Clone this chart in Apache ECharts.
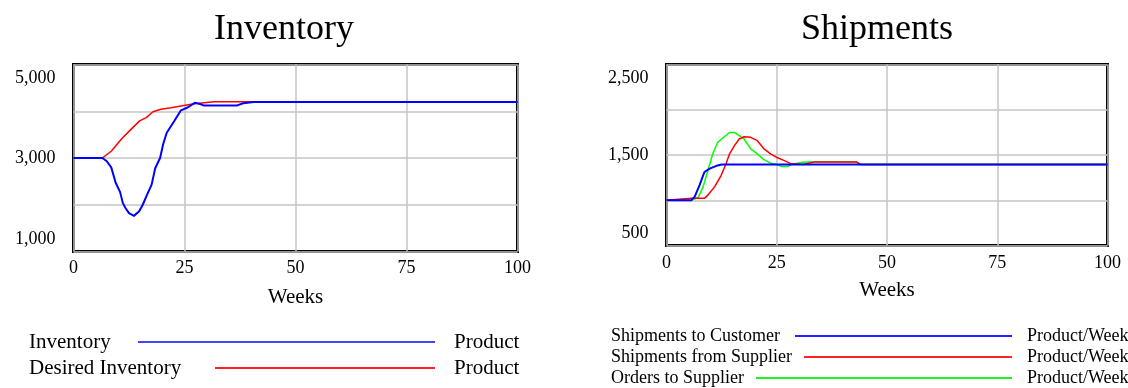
<!DOCTYPE html>
<html>
<head>
<meta charset="utf-8">
<script src="https://cdn.jsdelivr.net/npm/echarts@6/dist/echarts.min.js"></script>
<style>
  html, body { margin: 0; padding: 0; background: #fff; }
  #main { width: 1128px; height: 388px; }
</style>
</head>
<body>
<div id="main"></div>
<script>
/* ---------------------------- data ---------------------------- */
var invWeeks = [0, 6.5, 7.5, 8.5, 9.5, 10.5, 11.1, 11.7, 12.5, 13.6, 14.8, 15.6, 16.5, 17.6, 18.4, 19.5, 20.2, 21, 22.7, 24.2, 25.7, 27.3, 28.3, 29.3, 36.9, 38.2, 40.6, 100];
var invValues = [3000, 3000, 2930, 2800, 2470, 2270, 2040, 1930, 1820, 1762, 1860, 2000, 2200, 2430, 2780, 3000, 3300, 3540, 3790, 4020, 4080, 4180, 4160, 4125, 4125, 4170, 4200, 4200];

var desWeeks = [0, 6.5, 8.5, 10.8, 13, 14.9, 16.4, 17.9, 19.7, 22, 24.2, 27.2, 31.7, 41, 100];
var desValues = [3000, 3000, 3144, 3406, 3618, 3794, 3865, 3990, 4041, 4075, 4111, 4160, 4205, 4205, 4200];

var custWeeks = [0, 5.6, 6.4, 7.5, 8.6, 9.8, 11.6, 12.5, 100];
var custValues = [1000, 1000, 1039, 1167, 1312, 1349, 1385, 1395, 1395];

var suppWeeks = [0, 5.6, 8.6, 9.4, 10.9, 12.4, 13.5, 14.3, 15.4, 16.5, 17.6, 19.1, 20.6, 22.1, 23.6, 25.2, 26.6, 28.2, 31, 33.5, 43.2, 44, 100];
var suppValues = [1000, 1021, 1021, 1057, 1148, 1276, 1404, 1513, 1604, 1677, 1702, 1695, 1658, 1568, 1513, 1469, 1440, 1404, 1395, 1422, 1422, 1395, 1395];

var ordWeeks = [0, 5.6, 7.2, 8.3, 9.4, 10.5, 11.6, 13.1, 14.3, 15.4, 16.5, 17.6, 19.1, 20.6, 22.1, 23.6, 25, 26, 27.5, 28.3, 30.8, 33.5, 43, 44, 100];
var ordValues = [1000, 1000, 1032, 1148, 1331, 1513, 1640, 1702, 1749, 1749, 1713, 1677, 1568, 1513, 1448, 1410, 1395, 1374, 1374, 1395, 1421, 1425, 1425, 1395, 1395];

var weekTicks = [0, 25, 50, 75, 100];
var invTickValues = [1000, 3000, 5000];
var invTickLabels = ['1,000', '3,000', '5,000'];
var shipTickValues = [500, 1500, 2500];
var shipTickLabels = ['500', '1,500', '2,500'];

/* ---------------------------------- helpers ---------------------------------- */
var FONT = '"Liberation Serif", "Times New Roman", serif';

function pairs(weeks, values) {
  return weeks.map(function (w, i) { return [w, values[i]]; });
}

// top label pushed down, bottom label pushed up, like the original
function yFormatter(values, labels) {
  return function (v) {
    var i = values.indexOf(v);
    if (i < 0) return '';
    if (i === values.length - 1) return '{t|' + labels[i] + '}';
    if (i === 0) return '{b|' + labels[i] + '}';
    return '{m|' + labels[i] + '}';
  };
}

var richY = {
  t: { fontSize: 18, fontFamily: FONT, color: '#000', padding: [28, 0, 0, 0] },
  m: { fontSize: 18, fontFamily: FONT, color: '#000' },
  b: { fontSize: 18, fontFamily: FONT, color: '#000', padding: [0, 0, 24, 0] }
};

function xAxis(idx, margin, gap) {
  return {
    type: 'value',
    gridIndex: idx,
    min: weekTicks[0],
    max: weekTicks[weekTicks.length - 1],
    interval: 25,
    name: 'Weeks',
    nameLocation: 'middle',
    nameGap: gap,
    nameTextStyle: { fontSize: 21, fontFamily: FONT, color: '#000' },
    axisLine: { show: false },
    axisTick: { show: false },
    axisLabel: { fontSize: 18, fontFamily: FONT, color: '#000', margin: margin },
    splitLine: { show: true, lineStyle: { color: '#c4c4c4', width: 1.5 } }
  };
}

function yAxis(idx, min, max, step, values, labels) {
  return {
    type: 'value',
    gridIndex: idx,
    min: min,
    max: max,
    interval: step,
    axisLine: { show: false },
    axisTick: { show: false },
    axisLabel: { margin: 18, formatter: yFormatter(values, labels), rich: richY },
    splitLine: { show: true, lineStyle: { color: '#c4c4c4', width: 1.5 } }
  };
}

function line(name, weeks, values, color, idx, width) {
  return {
    name: name,
    type: 'line',
    xAxisIndex: idx,
    yAxisIndex: idx,
    data: pairs(weeks, values),
    showSymbol: false,
    silent: true,
    lineStyle: { color: color, width: width },
    itemStyle: { color: color }
  };
}

function legendRow(x, y, label, x1, x2, color, unit, unitX, size) {
  var font = size + 'px ' + FONT;
  return [
    { type: 'text', x: x, y: y, style: { text: label, font: font, fill: '#000', verticalAlign: 'middle' } },
    { type: 'line', shape: { x1: x1, y1: y, x2: x2, y2: y }, style: { stroke: color, lineWidth: 2 } },
    { type: 'text', x: unitX, y: y, style: { text: unit, font: font, fill: '#000', verticalAlign: 'middle' } }
  ];
}

/* ---------------------------------- chart ---------------------------------- */
var chartDom = document.getElementById('main');
var myChart = echarts.init(chartDom, null, { renderer: 'canvas' });

var option = {
  animation: false,
  backgroundColor: '#fff',
  title: [
    { text: 'Inventory', left: 279, top: 7, textAlign: 'center',
      textStyle: { fontSize: 36, fontFamily: FONT, fontWeight: 'normal', color: '#000' } },
    { text: 'Shipments', left: 872, top: 7, textAlign: 'center',
      textStyle: { fontSize: 36, fontFamily: FONT, fontWeight: 'normal', color: '#000' } }
  ],
  grid: [
    { left: 73.5, top: 64.5, width: 444, height: 187, show: true, borderColor: '#000', borderWidth: 3 },
    { left: 666.5, top: 64.5, width: 441, height: 181, show: true, borderColor: '#000', borderWidth: 3 }
  ],
  xAxis: [xAxis(0, 8, 35), xAxis(1, 9, 34)],
  yAxis: [
    yAxis(0, 1000, 5000, 1000, invTickValues, invTickLabels),
    yAxis(1, 500, 2500, 500, shipTickValues, shipTickLabels)
  ],
  series: [
    line('Desired Inventory', desWeeks, desValues, '#ff0000', 0, 1.5),
    line('Inventory', invWeeks, invValues, '#0000ff', 0, 2),
    line('Orders to Supplier', ordWeeks, ordValues, '#00ff00', 1, 1.5),
    line('Shipments from Supplier', suppWeeks, suppValues, '#ff0000', 1, 1.5),
    line('Shipments to Customer', custWeeks, custValues, '#0000ff', 1, 2)
  ],
  graphic: [].concat(
    legendRow(29, 342, 'Inventory', 138, 435, '#4444ff', 'Product', 454, 21),
    legendRow(29, 368, 'Desired Inventory', 215, 435, '#ff2222', 'Product', 454, 21),
    legendRow(611, 336, 'Shipments to Customer', 795, 1012, '#2222ff', 'Product/Week', 1027, 18),
    legendRow(611, 357, 'Shipments from Supplier', 804, 1012, '#ff2222', 'Product/Week', 1027, 18),
    legendRow(611, 378, 'Orders to Supplier', 756, 1012, '#22ee22', 'Product/Week', 1027, 18)
  )
};

option && myChart.setOption(option);
</script>
</body>
</html>
